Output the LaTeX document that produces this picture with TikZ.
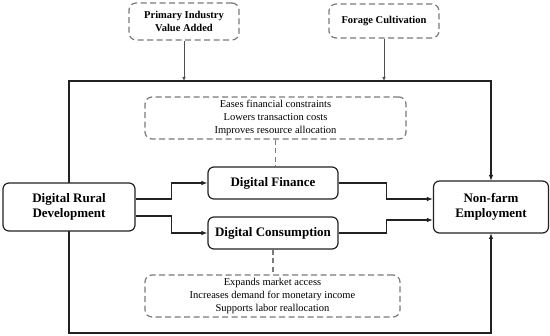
\documentclass[tikz,border=0pt]{standalone}
\usepackage{fontspec}
\setmainfont{Liberation Serif}
\usepackage{xcolor}
\usetikzlibrary{arrows.meta,positioning,calc}

\definecolor{linegray}{HTML}{7A7A7A}
\definecolor{inkdark}{HTML}{222222}

\begin{document}
\begin{tikzpicture}[x=1pt, y=-1pt,
		mainbox/.style={draw=inkdark, line width=1.2pt, rounded corners=6pt, fill=white, align=center, inner sep=0pt, font=\fontsize{13}{15}\selectfont\bfseries},
		notebox/.style={draw=linegray, line width=1.2pt, dash pattern=on 6pt off 3.5pt, rounded corners=7pt, fill=white, align=center, inner sep=0pt, font=\fontsize{10.5}{12.7}\selectfont},
		flow/.style={draw=inkdark, line width=1.1pt, -{Latex[length=6pt,width=4.5pt]}},
		feed/.style={draw=inkdark!80, line width=0.7pt, -{Latex[length=4pt,width=3.5pt]}},
		link/.style={draw=linegray, line width=1.2pt, dash pattern=on 5pt off 3.5pt}]
		\useasboundingbox (0,0) rectangle (550,336);

		% frame corners
		\coordinate (tl) at (69,81);
		\coordinate (tr) at (491,81);
		\coordinate (bl) at (69,333);
		\coordinate (br) at (491,333);

		% controls on top
		\node[notebox, minimum width=110pt, minimum height=37pt, font=\fontsize{10.5}{13}\selectfont\bfseries] (piva) at (184,21.5) {Primary Industry\\Value Added};
		\node[notebox, minimum width=110pt, minimum height=34pt, font=\fontsize{10.5}{13}\selectfont\bfseries] (forage) at (384,21) {Forage Cultivation};

		% frame lines
		\draw[flow] (69,207) -- (tl) -- (tr) -- (491,181);
		\draw[flow] (69,207) -- (bl) -- (br) -- (491,233);
		\draw[feed] (piva.south) -- (piva.south |- tl);
		\draw[feed] (forage.south) -- (forage.south |- tl);

		% main chain
		\node[mainbox, minimum width=132pt, minimum height=48pt] (drd) at (69,207) {Digital Rural\\Development};
		\node[mainbox, minimum width=130pt, minimum height=32pt] (fin) at (273,183) {Digital Finance};
		\node[mainbox, minimum width=130pt, minimum height=32pt] (cons) at (273,233) {Digital Consumption};
		\node[mainbox, minimum width=115pt, minimum height=52pt] (nfe) at (491,207) {Non-farm\\Employment};

		% mechanism notes
		\node[notebox, minimum width=261pt, minimum height=42pt] (finnote) at (275.5,118) {Eases financial constraints\\Lowers transaction costs\\Improves resource allocation};
		\node[notebox, minimum width=255pt, minimum height=42pt] (consnote) at (272.5,296) {Expands market access\\Increases demand for monetary income\\Supports labor reallocation};

		\draw[flow] ([yshift=8pt]drd.east) -- ++(36,0) |- (fin.west);
		\draw[flow] ([yshift=-9pt]drd.east) -- ++(36,0) |- (cons.west);
		\draw[flow] (fin.east) -- ++(48,0) |- ([yshift=8pt]nfe.west);
		\draw[flow] (cons.east) -- ++(48,0) |- ([yshift=-13pt]nfe.west);

		\draw[link] (finnote.south) -- (finnote.south |- fin.north);
		\draw[link] (cons.south) -- (cons.south |- consnote.north);
	\end{tikzpicture}
\end{document}
